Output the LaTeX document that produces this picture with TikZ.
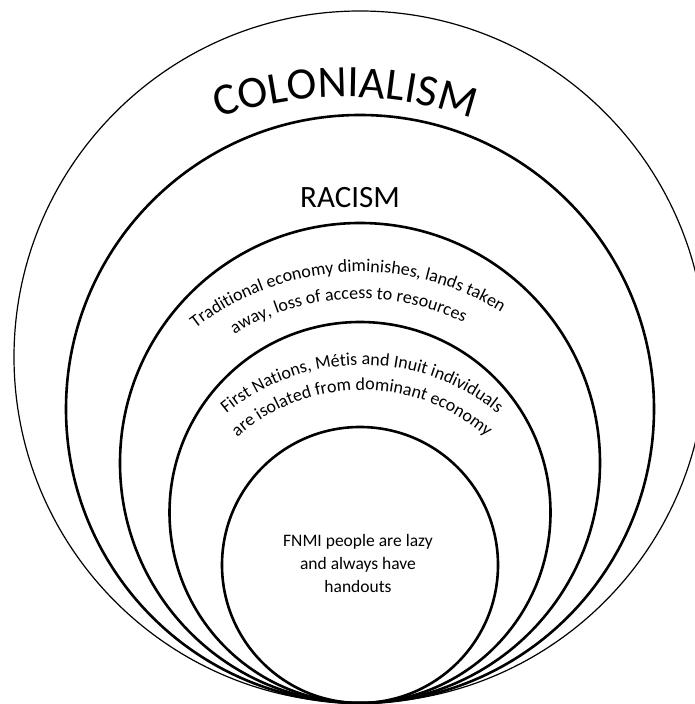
\documentclass[tikz,border=0pt]{standalone}
\usepackage{fontspec}
\setmainfont{Carlito}
\usetikzlibrary{decorations.text}
\begin{document}
\begin{tikzpicture}[x=1pt,y=1pt,
  ring/.style={line width=2.6pt},
  outerring/.style={line width=1.2pt},
  label/.style={inner sep=0pt}]
\useasboundingbox (0,0) rectangle (695,704);
\clip (0,0) rectangle (695,704);

% nested circles, all touching at the bottom
\coordinate (c1) at (360,347);
\coordinate (c2) at (360,295);
\coordinate (c3) at (360,241);
\coordinate (c4) at (360,191.5);
\coordinate (c5) at (360,139);
\draw[outerring] (c1) circle[radius=346];
\draw[ring] (c2) circle[radius=294];
\draw[ring] (c3) circle[radius=240];
\draw[ring] (c4) circle[radius=190.5];
\draw[ring] (c5) circle[radius=138];

% curved heading of the outer ring
\coordinate (t1) at (345,217);
\path[decorate, decoration={text along path, text align=center,
  text={|\fontsize{45}{54}\selectfont|COLONIALISM}}]
  (t1) ++(130:390) arc[start angle=130, end angle=50, radius=390];

% heading of the second ring
\node[label, anchor=base, font=\fontsize{31}{37}\selectfont] (racism) at (350,496) {RACISM};

% third ring: two curved lines
\coordinate (t3) at (360,164);
\path[decorate, decoration={text along path, text align=center,
  text={|\fontsize{18}{22}\selectfont|Traditional economy diminishes, lands taken}}]
  (t3) ++(153:268) arc[start angle=153, end angle=33, radius=268];
\path[decorate, decoration={text along path, text align=center,
  text={|\fontsize{18}{22}\selectfont|away, loss of access to resources}}]
  (t3) ++(153:241) arc[start angle=153, end angle=33, radius=241];

% fourth ring: two curved lines
\coordinate (t4) at (362,126);
\path[decorate, decoration={text along path, text align=center,
  text={|\fontsize{18}{22}\selectfont|First Nations, Métis and Inuit individuals}}]
  (t4) ++(150:213) arc[start angle=150, end angle=30, radius=213];
\path[decorate, decoration={text along path, text align=center,
  text={|\fontsize{18}{22}\selectfont|are isolated from dominant economy}}]
  (t4) ++(150:188) arc[start angle=150, end angle=30, radius=188];

% innermost circle text
\node[label, align=center, font=\fontsize{17.5}{23}\selectfont] (core) at (358,140.5)
  {FNMI people are lazy\\and always have\\handouts};
\end{tikzpicture}
\end{document}
